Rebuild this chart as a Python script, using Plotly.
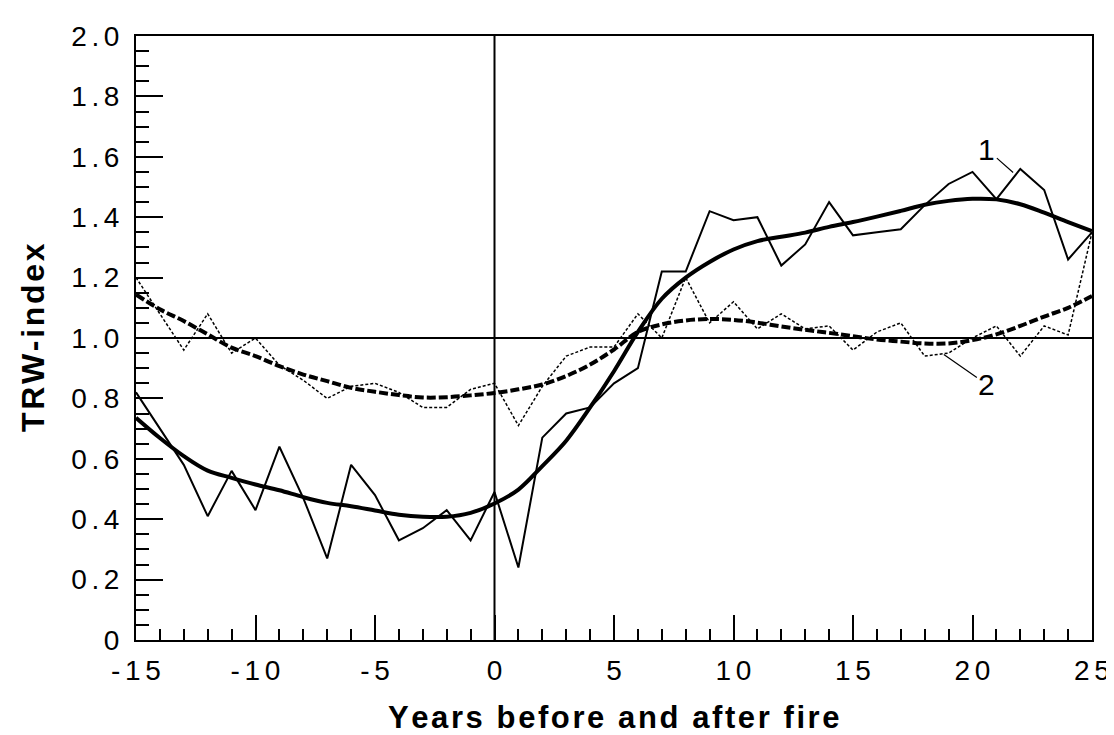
import plotly.graph_objects as go

# ---- data ----
years = list(range(-15, 26))

trw_1 = [0.82, 0.70, 0.58, 0.41, 0.56, 0.43, 0.64, 0.47, 0.27, 0.58,
         0.48, 0.33, 0.37, 0.43, 0.33, 0.49, 0.24, 0.67, 0.75, 0.77,
         0.85, 0.90, 1.22, 1.22, 1.42, 1.39, 1.40, 1.24, 1.31, 1.45,
         1.34, 1.35, 1.36, 1.44, 1.51, 1.55, 1.46, 1.56, 1.49, 1.26, 1.35]

fit_1 = [0.736, 0.669, 0.609, 0.561, 0.537, 0.515, 0.496, 0.473, 0.454, 0.443,
         0.429, 0.415, 0.408, 0.408, 0.421, 0.452, 0.498, 0.576, 0.660, 0.770,
         0.890, 1.020, 1.130, 1.200, 1.252, 1.293, 1.321, 1.335, 1.349, 1.368,
         1.384, 1.402, 1.421, 1.441, 1.454, 1.461, 1.459, 1.443, 1.415, 1.384, 1.354]

trw_2 = [1.20, 1.08, 0.96, 1.08, 0.95, 1.00, 0.91, 0.86, 0.80, 0.84,
         0.85, 0.82, 0.77, 0.77, 0.83, 0.85, 0.71, 0.84, 0.94, 0.97,
         0.97, 1.08, 1.00, 1.20, 1.05, 1.12, 1.03, 1.08, 1.03, 1.04,
         0.96, 1.02, 1.05, 0.94, 0.95, 1.00, 1.04, 0.94, 1.04, 1.01, 1.35]

fit_2 = [1.144, 1.095, 1.056, 1.012, 0.968, 0.940, 0.907, 0.879, 0.857, 0.835,
         0.822, 0.811, 0.803, 0.804, 0.810, 0.818, 0.830, 0.846, 0.874, 0.912,
         0.962, 1.020, 1.045, 1.058, 1.063, 1.060, 1.051, 1.038, 1.027, 1.017,
         1.006, 0.995, 0.988, 0.982, 0.982, 0.993, 1.012, 1.040, 1.071, 1.100, 1.139]

x_ticks = [-15, -10, -5, 0, 5, 10, 15, 20, 25]
x_tick_labels = ["-15", "-10", "-5", "0", "5", "10", "15", "20", "25"]
y_ticks = [0, 0.2, 0.4, 0.6, 0.8, 1.0, 1.2, 1.4, 1.6, 1.8, 2.0]
y_tick_labels = ["0", "0.2", "0.4", "0.6", "0.8", "1.0", "1.2", "1.4", "1.6", "1.8", "2.0"]

fire_year = 0
index_base = 1.0

label_1 = {"text": "1", "tx": 20.6, "ty": 1.625, "px": 21.7, "py": 1.548}
label_2 = {"text": "2", "tx": 20.6, "ty": 0.846, "px": 18.8, "py": 0.945}

x_title = "Years before and after fire"
y_title = "TRW-index"


def spaced(s, sep):
    """Letter-spaced version of a label (the reference uses tracked type)."""
    return sep.join(s)


SIX_PER_EM = "\u2006"
HAIR = "\u200A"

# ---- figure ----
fig = go.Figure()

fig.add_trace(go.Scatter(x=years, y=trw_2, mode="lines",
                         line=dict(color="black", width=1.5, dash="3px,2px"),
                         showlegend=False))
fig.add_trace(go.Scatter(x=years, y=fit_2, mode="lines",
                         line=dict(color="black", width=4, dash="9px,3px", shape="spline"),
                         showlegend=False))
fig.add_trace(go.Scatter(x=years, y=trw_1, mode="lines",
                         line=dict(color="black", width=2),
                         showlegend=False))
fig.add_trace(go.Scatter(x=years, y=fit_1, mode="lines",
                         line=dict(color="black", width=4, shape="spline"),
                         showlegend=False))

# reference lines
fig.add_shape(type="line", x0=fire_year, x1=fire_year, y0=0, y1=2.0,
              xref="x", yref="y", line=dict(color="black", width=2), layer="below")
fig.add_shape(type="line", x0=-15, x1=25, y0=index_base, y1=index_base,
              xref="x", yref="y", line=dict(color="black", width=2), layer="below")

tick_font = dict(family="Liberation Sans, Arial, sans-serif", size=28, color="black")
xtitle_font = dict(family="Liberation Sans, Arial, sans-serif", size=31, color="black", weight="bold")
ytitle_font = dict(family="Liberation Sans, Arial, sans-serif", size=32, color="black", weight="bold")

fig.update_xaxes(range=[-15, 25], tickvals=x_ticks,
                 ticktext=[spaced(t, SIX_PER_EM) for t in x_tick_labels],
                 ticks="inside", ticklen=25, tickwidth=1.5, tickcolor="black",
                 minor=dict(dtick=1, ticks="inside", ticklen=11, tickwidth=1.5, tickcolor="black"),
                 showline=True, linecolor="black", linewidth=2, mirror=True,
                 showgrid=False, zeroline=False, tickfont=tick_font,
                 ticklabelstandoff=4)
fig.update_yaxes(range=[0, 2.0], tickvals=y_ticks,
                 ticktext=[spaced(t, SIX_PER_EM) for t in y_tick_labels],
                 ticks="inside", ticklen=27, tickwidth=1.5, tickcolor="black",
                 minor=dict(dtick=0.05, ticks="inside", ticklen=13, tickwidth=1.5, tickcolor="black"),
                 showline=True, linecolor="black", linewidth=2, mirror=True,
                 showgrid=False, zeroline=False, tickfont=tick_font,
                 ticklabelstandoff=9)

for lab in (label_1, label_2):
    fig.add_annotation(x=lab["px"], y=lab["py"], ax=lab["tx"], ay=lab["ty"],
                       xref="x", yref="y", axref="x", ayref="y",
                       text=lab["text"], showarrow=True, arrowhead=0,
                       arrowwidth=1.2, arrowcolor="black",
                       font=dict(family="Liberation Sans, Arial, sans-serif", size=30, color="black"))

fig.add_annotation(text=spaced(x_title, HAIR), xref="paper", yref="paper", x=0.5, y=0,
                   xanchor="center", yanchor="bottom", yshift=-97, showarrow=False,
                   font=xtitle_font)
fig.add_annotation(text=spaced(y_title, HAIR), xref="paper", yref="paper", x=0, y=0.5,
                   xanchor="center", yanchor="middle", xshift=-103, textangle=-90,
                   showarrow=False, font=ytitle_font)

fig.update_layout(width=1114, height=735,
                  margin=dict(l=128, r=21, t=28, b=103),
                  paper_bgcolor="white", plot_bgcolor="white")

fig.write_html("out.html")
